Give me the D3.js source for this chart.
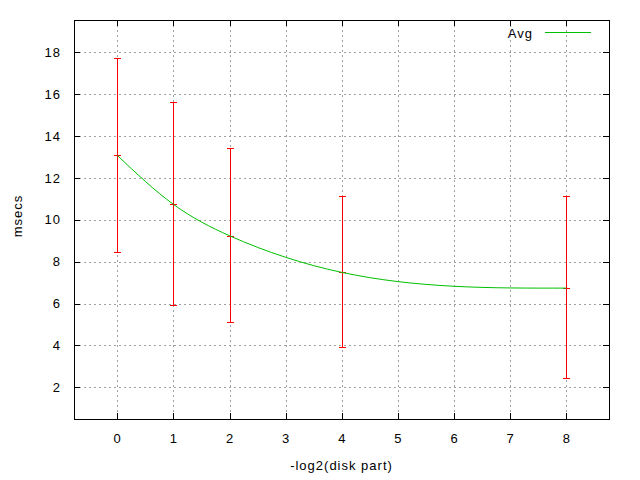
<!DOCTYPE html>
<html>
<head>
<meta charset="utf-8">
<script src="https://cdn.jsdelivr.net/npm/d3@7"></script>
<style>
  html, body { margin: 0; padding: 0; background: #fff; }
  svg text { font-family: "Liberation Sans", Arial, sans-serif; font-size: 13px; letter-spacing: 1px; fill: #000; }
</style>
</head>
<body>
<svg id="chart" width="640" height="480"></svg>
<script>
// ---- data ----
const xValues   = [0, 1, 2, 4, 8];
const avgValues = [13.08, 10.74, 9.24, 7.49, 6.74];
const lowValues = [8.48, 5.92, 5.11, 3.93, 2.43];
const highValues = [17.71, 15.61, 13.42, 11.12, 11.12];
const xTicks = [0, 1, 2, 3, 4, 5, 6, 7, 8];
const yTicks = [2, 4, 6, 8, 10, 12, 14, 16, 18];
const seriesName = "Avg";
const xLabel = "-log2(disk part)";
const yLabel = "msecs";

// ---- layout ----
const pLeft = 74, pRight = 609, pTop = 20, pBottom = 419;
const svg = d3.select("#chart");

const x = d3.scaleLinear().domain([-0.77, 8.76]).range([pLeft, pRight]);
const y = d3.scaleLinear().domain([0.49, 19.54]).range([pBottom, pTop]);

const rows = xValues.map((v, i) => ({ x: v, avg: avgValues[i], lo: lowValues[i], hi: highValues[i] }));

// grid
const grid = svg.append("g").attr("stroke", "#a0a0a0").attr("stroke-dasharray", "2,3").attr("shape-rendering", "crispEdges");
grid.selectAll("line.gx").data(xTicks).join("line")
  .attr("x1", d => Math.round(x(d)) + 0.5).attr("x2", d => Math.round(x(d)) + 0.5)
  .attr("y1", pTop).attr("y2", pBottom);
grid.selectAll("line.gy").data(yTicks).join("line")
  .attr("y1", d => Math.round(y(d)) + 0.5).attr("y2", d => Math.round(y(d)) + 0.5)
  .attr("x1", pLeft).attr("x2", pRight);

// axes (ticks inside, mirrored)
function styleAxis(g) {
  g.select(".domain").remove();
  g.selectAll(".tick line").attr("stroke", "#000").attr("shape-rendering", "crispEdges");
}
svg.append("g").attr("transform", `translate(0,${pBottom})`)
  .call(d3.axisBottom(x).tickValues(xTicks).tickSize(-6).tickPadding(15).tickFormat(d3.format("d")))
  .call(styleAxis)
  .call(g => g.selectAll("text").attr("font-family", null).attr("font-size", null).attr("dy", "0.71em"));
svg.append("g").attr("transform", `translate(0,${pTop})`)
  .call(d3.axisTop(x).tickValues(xTicks).tickSize(-6).tickFormat(""))
  .call(styleAxis);
svg.append("g").attr("transform", `translate(${pLeft},0)`)
  .call(d3.axisLeft(y).tickValues(yTicks).tickSize(-6).tickPadding(13).tickFormat(d3.format("d")))
  .call(styleAxis)
  .call(g => g.selectAll("text").attr("font-family", null).attr("font-size", null));
svg.append("g").attr("transform", `translate(${pRight},0)`)
  .call(d3.axisRight(y).tickValues(yTicks).tickSize(-6).tickFormat(""))
  .call(styleAxis);

// frame
svg.append("rect").attr("x", pLeft + 0.5).attr("y", pTop + 0.5)
  .attr("width", pRight - pLeft).attr("height", pBottom - pTop)
  .attr("fill", "none").attr("stroke", "#000").attr("shape-rendering", "crispEdges");

// error bars
const eb = svg.append("g").attr("stroke", "#ff0000").attr("stroke-width", 1).attr("shape-rendering", "crispEdges");
eb.selectAll("line.bar").data(rows).join("line")
  .attr("x1", d => Math.round(x(d.x)) + 0.5).attr("x2", d => Math.round(x(d.x)) + 0.5)
  .attr("y1", d => y(d.hi)).attr("y2", d => y(d.lo));
["hi", "lo", "avg"].forEach(k => {
  eb.append("g").selectAll("line").data(rows).join("line")
    .attr("x1", d => Math.round(x(d.x)) - 3).attr("x2", d => Math.round(x(d.x)) + 4)
    .attr("y1", d => Math.round(y(d[k])) + 0.5).attr("y2", d => Math.round(y(d[k])) + 0.5);
});

// natural cubic spline in x (like gnuplot "smooth csplines")
function curveNaturalX(context) {
  let xs, ys;
  return {
    areaStart() {}, areaEnd() {},
    lineStart() { xs = []; ys = []; },
    point(px, py) { xs.push(+px); ys.push(+py); },
    lineEnd() {
      const n = xs.length;
      if (!n) return;
      context.moveTo(xs[0], ys[0]);
      if (n < 3) { for (let i = 1; i < n; i++) context.lineTo(xs[i], ys[i]); return; }
      const h = [], d = [];
      for (let i = 0; i < n - 1; i++) { h.push(xs[i + 1] - xs[i]); d.push((ys[i + 1] - ys[i]) / h[i]); }
      const M = new Array(n).fill(0);
      const m = n - 2, a = [], b = [], c = [], r = [];
      for (let i = 1; i <= m; i++) {
        a.push(h[i - 1]); b.push(2 * (h[i - 1] + h[i])); c.push(h[i]); r.push(6 * (d[i] - d[i - 1]));
      }
      for (let i = 1; i < m; i++) {
        const w = a[i] / b[i - 1];
        b[i] -= w * c[i - 1]; r[i] -= w * r[i - 1];
      }
      const sol = new Array(m);
      sol[m - 1] = r[m - 1] / b[m - 1];
      for (let i = m - 2; i >= 0; i--) sol[i] = (r[i] - c[i] * sol[i + 1]) / b[i];
      for (let i = 0; i < m; i++) M[i + 1] = sol[i];
      for (let i = 0; i < n - 1; i++) {
        const s0 = d[i] - h[i] * (2 * M[i] + M[i + 1]) / 6;
        const s1 = d[i] + h[i] * (M[i] + 2 * M[i + 1]) / 6;
        context.bezierCurveTo(
          xs[i] + h[i] / 3, ys[i] + s0 * h[i] / 3,
          xs[i + 1] - h[i] / 3, ys[i + 1] - s1 * h[i] / 3,
          xs[i + 1], ys[i + 1]);
      }
    }
  };
}

const line = d3.line().x(d => x(d.x)).y(d => y(d.avg)).curve(curveNaturalX);
svg.append("path").datum(rows).attr("d", line)
  .attr("fill", "none").attr("stroke", "#00c000").attr("stroke-width", 1);

// legend
svg.append("text").attr("x", 533).attr("y", 38).attr("text-anchor", "end").text(seriesName);
svg.append("line").attr("x1", 545).attr("x2", 591).attr("y1", 32.5).attr("y2", 32.5)
  .attr("stroke", "#00c000").attr("stroke-width", 1);

// axis labels
svg.append("text").attr("x", (pLeft + pRight) / 2).attr("y", 470).attr("text-anchor", "middle").text(xLabel);
svg.append("text").attr("transform", "translate(22,216) rotate(-90)").attr("text-anchor", "middle").text(yLabel);
</script>
</body>
</html>
